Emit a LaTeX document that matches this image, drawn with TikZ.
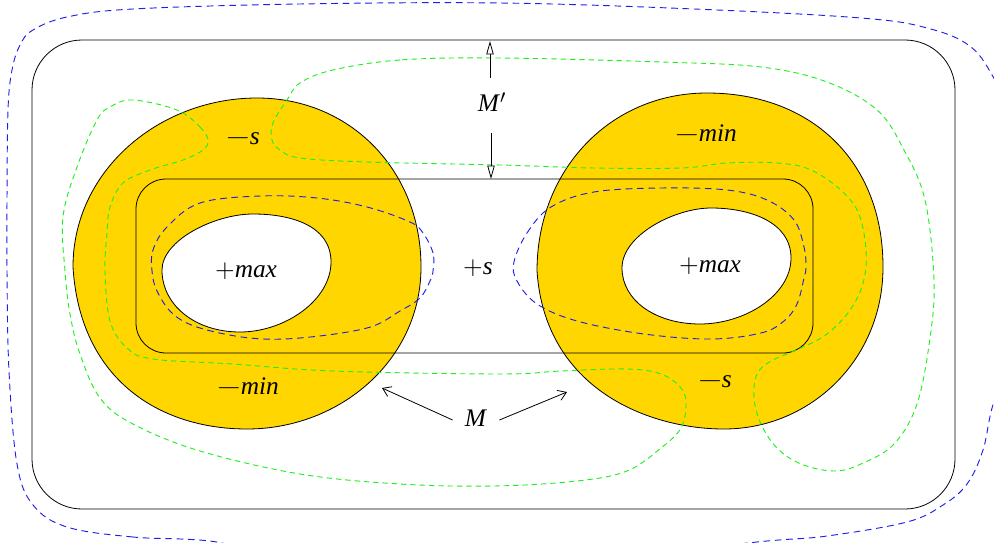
\documentclass[tikz,border=0pt]{standalone}
\usepackage{fontspec}
\usepackage{graphicx}
\setmainfont{Liberation Serif}
\newfontfamily\lmfont{lmroman10-regular.otf}
\usetikzlibrary{arrows.meta,calc}
\definecolor{blobyellow}{RGB}{255,214,0}
\definecolor{dgreen}{RGB}{30,240,30}
\definecolor{dblue}{RGB}{30,30,235}
\newcommand{\pl}{{\lmfont +}}
\newcommand{\mi}{{\lmfont\scalebox{1.2}[1]{−}}}
\begin{document}
\begin{tikzpicture}[x=0.75pt,y=-0.75pt,
  blob/.style={fill=blobyellow,draw=black,line width=0.6pt,even odd rule},
  frame/.style={draw=black,line width=0.6pt},
  gdash/.style={draw=dgreen,line width=0.7pt,dash pattern=on 4pt off 3pt},
  bdash/.style={draw=dblue,line width=0.7pt,dash pattern=on 5pt off 3.5pt},
  lbl/.style={font=\fontsize{19}{22}\selectfont,inner sep=0pt},
  hollow/.style={draw=black,line width=0.6pt,-{Triangle[open,length=10pt,width=5.5pt]}},
  barb/.style={draw=black,line width=0.6pt,-{Straight Barb[length=6pt,width=8pt]}}]
\useasboundingbox (0,0) rectangle (994,542);

% yellow regions with holes
\path[blob] (257,98) .. controls (350,98) and (421,170) .. (421,267)
  .. controls (421,360) and (340,429) .. (247,429)
  .. controls (160,429) and (80,380) .. (73,267)
  .. controls (73,170) and (160,98) .. (257,98) -- cycle
  (253,214) .. controls (290,214) and (331,225) .. (331,262)
  .. controls (331,300) and (285,332) .. (240,332)
  .. controls (195,332) and (162,305) .. (162,270)
  .. controls (162,240) and (215,214) .. (253,214) -- cycle;
\path[blob] (707,93) .. controls (810,93) and (883,160) .. (883,267)
  .. controls (883,360) and (810,429) .. (724,429)
  .. controls (650,429) and (545,390) .. (537,271)
  .. controls (537,170) and (610,93) .. (707,93) -- cycle
  (711,208) .. controls (750,208) and (791,222) .. (791,258)
  .. controls (791,295) and (745,324) .. (700,324)
  .. controls (655,324) and (622,300) .. (622,268)
  .. controls (622,235) and (675,208) .. (711,208) -- cycle;

% frames
\draw[frame,rounded corners=37.5pt] (32,40) rectangle (955,509);
\draw[frame,rounded corners=22.5pt] (136,179) rectangle (813,353);

% green dashed curves
\draw[gdash] plot[smooth cycle,tension=0.6] coordinates {(500,58) (400,60) (333,70) (300,83) (287,100) (273,123) (272,140) (280,150) (300,158) (367,162) (500,165) (594,168) (681,168) (727,163) (777,163) (811,170) (844,193) (861,220) (866,267) (854,304) (827,334) (794,351) (771,361) (757,374) (754,398) (761,424) (777,448) (801,464) (834,471) (861,464) (894,444) (917,404) (930,338) (934,280) (925,200) (904,150) (877,110) (827,82) (761,67) (661,62)};
\draw[gdash] plot[smooth cycle,tension=0.6] coordinates {(177,110) (200,127) (208,140) (203,150) (183,160) (150,170) (123,183) (110,207) (107,233) (105,271) (110,321) (127,348) (153,359) (233,364) (333,371) (500,374) (561,371) (627,369) (661,374) (681,388) (686,404) (681,428) (661,448) (627,471) (577,481) (494,486) (400,484) (300,474) (200,451) (133,424) (100,398) (80,354) (70,314) (65,271) (63,217) (77,167) (97,120) (110,107) (133,100)};

% blue dashed curves
\draw[bdash] plot[smooth cycle,tension=0.6] coordinates {(433,271) (433,253) (423,233) (410,222) (367,207) (317,198) (260,196) (200,203) (167,227) (153,250) (152,271) (157,291) (173,314) (200,328) (250,338) (300,338) (367,328) (400,311) (420,298) (430,281)};
\draw[bdash] plot[smooth cycle,tension=0.6] coordinates {(514,262) (527,233) (551,207) (594,192) (661,188) (727,190) (767,200) (794,220) (804,247) (806,267) (804,278) (797,304) (784,321) (761,333) (711,339) (644,334) (577,321) (537,304) (517,281)};
\begin{scope}
\clip (0,0) rectangle (994,542);
\draw[bdash] plot[smooth cycle,tension=0.6] coordinates {(210,541) (133,537) (67,527) (33,505) (17,464) (9,371) (7,271) (7,200) (8,110) (12,70) (20,45) (33,30) (67,17) (133,9) (300,4) (500,3) (694,9) (861,18) (927,28) (971,47) (998,85) (1040,160) (1055,250) (1040,340) (998,392) (983,450) (967,484) (943,505) (907,522) (827,536) (767,541) (600,556) (300,556)};
\end{scope}

% labels
\node[lbl] (ls) at (243,139) {\mi\textit{s}};
\node[lbl] (lmax) at (246,271) {\pl\textit{max}};
\node[lbl] (lmin) at (248,386) {\mi\textit{min}};
\node[lbl] (cs) at (478,268) {\pl\textit{s}};
\node[lbl] (rmin) at (706,133) {\mi\textit{min}};
\node[lbl] (rmax) at (710,266) {\pl\textit{max}};
\node[lbl] (rs) at (715,382) {\mi\textit{s}};
\node[lbl] (Mp) at (492,102) {\textit{M}$'$};
\node[lbl] (M) at (476,418) {\textit{M}};

% arrows
\coordinate (Mptop) at (490,41);
\coordinate (Mpbot) at (491,179);
\coordinate (Mleft) at (382,388);
\coordinate (Mright) at (567,392);
\draw[hollow] ($(Mp.north)+(-2,-14)$) -- (Mptop);
\draw[hollow] ($(Mp.south)+(-1,21)$) -- (Mpbot);
\draw[barb] ($(M.west)+(-12,2)$) -- (Mleft);
\draw[barb] ($(M.east)+(12,2)$) -- (Mright);
\end{tikzpicture}
\end{document}
